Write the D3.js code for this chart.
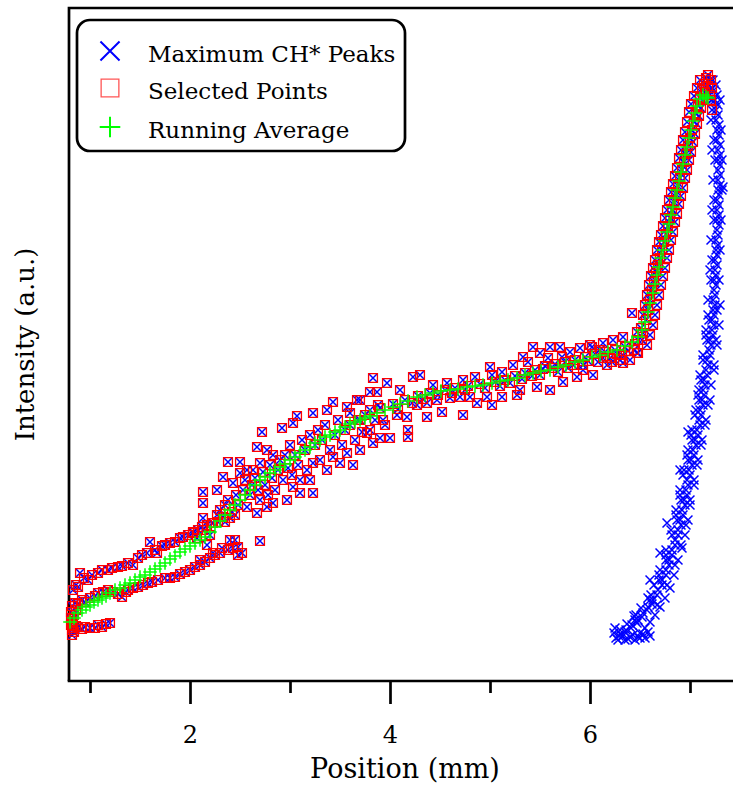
<!DOCTYPE html>
<html>
<head>
<meta charset="utf-8">
<script src="https://cdn.jsdelivr.net/npm/d3@7"></script>
<style>
  body { margin: 0; background: #fff; }
  svg { display: block; }
  text { font-family: "DejaVu Serif", serif; fill: #000; }
</style>
</head>
<body>
<svg id="chart" width="733" height="787"></svg>
<script>
// x: position (mm), y: intensity (a.u.)
let selectedPoints = [
  // upper band, left side
  [0.83,0.91],[0.86,0.96],[0.88,0.94],[0.90,1.08],[0.94,1.03],[0.98,1.01],[1.02,1.06],[1.08,1.08],
  [1.12,1.11],[1.18,1.11],[1.22,1.13],[1.28,1.14],[1.32,1.15],[1.38,1.18],[1.43,1.16],[1.48,1.23],
  [1.52,1.26],[1.57,1.28],[1.60,1.39],[1.65,1.31],[1.67,1.28],[1.72,1.35],[1.75,1.36],[1.80,1.38],
  [1.85,1.39],[1.90,1.43],[1.93,1.44],[1.98,1.46],[2.03,1.49],[2.08,1.51],[2.12,1.54],[2.17,1.56],
  [2.22,1.58],[2.28,1.59],[2.35,1.59],[2.40,1.63],[2.45,1.66],
  // lower band, left side
  [0.82,0.75],[0.85,0.78],[0.88,0.77],[0.92,0.81],[0.95,0.79],[1.00,0.83],[1.05,0.85],[1.08,0.88],
  [1.13,0.89],[1.18,0.91],[1.23,0.89],[1.28,0.87],[1.32,0.84],[1.36,0.89],[1.38,0.91],[1.43,0.93],
  [1.48,0.94],[1.53,0.96],[1.58,0.98],[1.62,0.99],[1.68,1.01],[1.75,1.03],[1.80,1.03],[1.85,1.04],
  [1.90,1.07],[1.95,1.09],[2.00,1.11],[2.05,1.14],[2.10,1.16],[2.15,1.19],[2.20,1.23],[2.25,1.26],
  [2.30,1.28],[2.38,1.31],[2.43,1.33],[2.48,1.34],[2.52,1.28],[2.48,1.26],[2.45,1.41],
  // bottom-left cluster
  [0.81,0.69],[0.81,0.63],[0.82,0.59],[0.83,0.53],[0.84,0.49],[0.82,0.46],[0.86,0.55],[0.88,0.54],
  [0.92,0.52],[0.95,0.54],[1.00,0.53],[1.05,0.53],[1.08,0.56],[1.12,0.54],[1.16,0.57],[1.20,0.58],
  [0.84,0.66],[0.86,0.71],[0.81,0.56],[0.82,0.51],[0.83,0.62],
  // 2 - 4 mm cloud
  [2.03,1.48],[2.07,1.43],[2.10,1.21],[2.13,1.51],[2.13,1.63],[2.13,1.78],[2.13,1.89],[2.17,1.36],
  [2.20,1.46],[2.23,1.58],[2.23,1.28],[2.27,1.91],[2.27,1.66],[2.32,1.33],[2.30,1.71],[2.33,1.64],
  [2.33,2.04],[2.35,1.76],[2.38,2.19],[2.38,1.81],[2.40,1.41],[2.42,1.69],[2.43,1.98],[2.46,1.86],
  [2.48,1.76],[2.50,2.19],[2.50,2.08],[2.53,1.91],[2.55,2.01],[2.57,2.11],[2.57,1.74],[2.60,1.86],
  [2.62,1.96],[2.63,2.11],[2.65,2.03],[2.67,2.34],[2.67,1.68],[2.68,1.91],[2.70,2.18],[2.70,1.81],
  [2.70,1.40],[2.72,2.49],[2.73,2.09],[2.75,1.96],[2.77,2.31],[2.77,1.74],[2.78,1.86],[2.80,2.16],
  [2.82,2.03],[2.83,2.26],[2.83,1.78],[2.85,1.91],[2.88,2.11],[2.90,2.21],[2.92,2.53],[2.93,2.01],
  [2.95,2.26],[2.97,1.81],[2.98,2.13],[3.00,2.36],[3.02,2.06],[3.03,2.58],[3.03,1.94],[3.05,2.26],
  [3.07,2.65],[3.08,2.16],[3.10,1.88],[3.10,2.01],[3.12,2.41],[3.15,2.31],[3.17,2.11],[3.20,2.01],
  [3.20,2.46],[3.23,2.68],[3.23,1.88],[3.23,2.18],[3.25,2.36],[3.28,2.51],[3.30,2.21],[3.32,2.41],
  [3.35,2.56],[3.37,2.71],[3.37,2.11],[3.40,2.31],[3.43,2.79],[3.43,2.24],[3.45,2.46],[3.48,2.61],
  [3.50,2.18],[3.52,2.36],[3.55,2.51],[3.57,2.74],[3.57,2.28],[3.60,2.56],[3.63,2.16],[3.65,2.41],
  [3.68,2.61],[3.70,2.81],[3.70,2.31],[3.72,2.49],[3.75,2.66],[3.77,2.48],[3.80,2.71],[3.83,2.38],
  [3.85,2.61],[3.87,2.89],[3.88,2.76],[3.90,2.43],[3.93,2.61],
  // 4 - 6.5 mm plateau, upper side
  [3.67,2.81],[3.80,2.89],[3.83,3.03],[3.97,2.98],[4.10,2.91],[4.23,3.04],[4.30,3.06],[4.43,2.96],
  [4.57,2.98],[4.73,3.01],[4.85,3.04],[5.00,3.14],[5.02,3.06],[5.12,3.09],[5.23,3.16],[5.33,3.24],
  [5.43,3.34],[5.50,3.28],[5.60,3.34],[5.70,3.34],[5.80,3.29],[5.90,3.33],[6.00,3.36],[6.13,3.38],
  [6.23,3.41],[6.33,3.44],[6.47,3.49],
  // plateau, lower side
  [3.60,2.68],[3.70,2.61],[3.80,2.51],[3.95,2.56],[4.00,2.43],[4.07,2.66],[4.17,2.64],[4.18,2.51],
  [4.18,2.44],[4.27,2.76],[4.37,2.78],[4.37,2.64],[4.47,2.81],[4.52,2.69],[4.60,2.83],[4.70,2.84],
  [4.73,2.66],[4.80,2.84],[4.87,2.78],[4.97,2.84],[5.02,2.76],[5.12,2.84],[5.27,2.86],[5.30,2.91],
  [5.47,2.94],[5.60,2.91],[5.73,2.99],[5.87,3.04],[6.03,3.06],[6.17,3.16],[6.30,3.21],[6.40,3.21],
  [6.47,3.28],
  // plateau, middle
  [3.90,2.73],[4.03,2.77],[4.15,2.81],[4.28,2.85],[4.40,2.88],[4.55,2.91],[4.65,2.93],[4.78,2.95],
  [4.90,2.97],[5.05,2.99],[5.15,3.01],[5.25,3.05],[5.35,3.08],[5.45,3.11],[5.55,3.15],[5.65,3.17],
  [5.75,3.19],[5.85,3.21],[5.95,3.24],[6.05,3.27],[6.15,3.29],[6.25,3.31],[6.35,3.34],[6.45,3.37],
  [6.52,3.41],[5.38,3.19],[5.50,3.06],[5.58,3.23],[5.68,3.09],[5.78,3.13],[5.93,3.16],[6.08,3.19],
  [6.20,3.23],[6.44,3.31],[6.32,3.26],[6.22,3.19],[6.13,3.23],[6.33,3.18],[6.48,3.28],[6.57,3.36],
  [5.93,3.11],[6.42,3.68],[6.02,3.34],
  [4.08,2.72],[4.22,2.78],[4.33,2.82],[4.48,2.86],[4.62,2.88],[4.75,2.91],[4.95,2.93],[5.10,2.95],
  [5.20,2.98],[5.32,3.02],[5.42,3.05],[5.53,3.12],[5.63,3.13],[5.72,3.24],[5.83,3.16],[5.98,3.20],
  [6.10,3.31],[6.27,3.27],[6.38,3.30],
  // steep rise to the peak
  [6.53,3.48],[6.56,3.61],[6.58,3.71],[6.60,3.81],[6.62,3.91],[6.64,3.99],[6.66,4.09],[6.68,4.16],
  [6.70,4.23],[6.72,4.31],[6.74,4.39],[6.76,4.47],[6.78,4.55],[6.80,4.63],[6.82,4.71],[6.84,4.79],
  [6.86,4.87],[6.88,4.95],[6.90,5.03],[6.92,5.11],[6.94,5.19],[6.96,5.27],[6.98,5.35],[7.00,5.43],
  [7.02,5.51],[7.04,5.59],[7.06,5.67],[7.08,5.75],[7.10,5.83],[7.12,5.91],[7.14,5.97],[7.16,6.03],
  [7.18,6.06],[7.21,6.01],[7.22,5.93],[7.20,5.86],
  [6.48,3.41],[6.51,3.53],[6.53,3.66],[6.55,3.76],[6.57,3.86],[6.59,3.96],[6.61,4.05],[6.63,4.13],
  [6.65,4.21],[6.67,4.31],[6.69,4.39],[6.71,4.46],[6.73,4.55],[6.75,4.63],[6.77,4.71],[6.79,4.81],
  [6.81,4.89],[6.83,4.97],[6.85,5.05],[6.87,5.13],[6.89,5.23],[6.91,5.31],[6.93,5.41],[6.95,5.49],
  [6.97,5.59],[6.99,5.69],[7.01,5.77],[7.04,5.85],[7.07,5.93],[7.10,6.01],
  [6.60,3.46],[6.63,3.56],[6.65,3.66],[6.67,3.76],[6.69,3.86],[6.71,3.96],[6.73,4.05],[6.75,4.13],
  [6.77,4.23],[6.79,4.31],[6.81,4.41],[6.83,4.49],[6.85,4.59],[6.87,4.67],[6.89,4.77],[6.91,4.85],
  [6.93,4.93],[6.95,5.03],[6.97,5.11],[6.99,5.21],[7.01,5.29],[7.03,5.39],[7.05,5.47],[7.07,5.57],
  [7.09,5.65],[7.11,5.73],[7.13,5.81],[7.15,5.89],[7.18,5.95],[7.21,5.81],[7.22,5.71]
];

// peaks that were not selected (falling branch past the maximum)
let rejectedPoints = [
  [7.23,6.01],[7.24,5.91],[7.25,5.81],[7.26,5.71],[7.26,5.61],[7.27,5.51],[7.27,5.41],[7.28,5.31],
  [7.28,5.21],[7.28,5.11],[7.28,5.01],[7.28,4.91],[7.27,4.81],[7.27,4.71],[7.27,4.61],[7.27,4.51],
  [7.26,4.41],[7.26,4.31],[7.25,4.21],[7.25,4.11],[7.24,4.01],[7.24,3.91],[7.23,3.81],[7.23,3.71],
  [7.22,3.61],[7.22,3.51],[7.20,3.41],[7.19,3.31],[7.17,3.21],[7.16,3.11],[7.14,3.01],[7.13,2.91],
  [7.12,2.81],[7.10,2.71],[7.09,2.61],[7.07,2.51],[7.05,2.41],[7.03,2.31],[7.01,2.21],[6.99,2.11],
  [6.97,2.01],[6.96,1.91],[6.94,1.81],[6.92,1.71],[6.90,1.61],[6.88,1.51],[6.85,1.41],[6.82,1.31],
  [6.79,1.21],[6.76,1.11],[6.72,1.01],[6.68,0.91],[6.63,0.81],[6.58,0.74],[6.53,0.68],[6.48,0.61],
  [6.42,0.56],[6.36,0.51],[6.30,0.47],[6.26,0.43],[6.35,0.41],[6.45,0.41],[6.55,0.43],
  [7.19,5.91],[7.21,5.61],[7.22,5.31],[7.23,5.01],[7.22,4.71],[7.21,4.41],[7.20,4.11],[7.18,3.81],
  [7.16,3.51],[7.13,3.21],[7.09,2.91],[7.06,2.71],[7.02,2.51],[6.98,2.31],[6.94,2.11],[6.90,1.91],
  [6.86,1.71],[6.81,1.51],[6.76,1.31],[6.70,1.11],[6.64,0.96],[6.58,0.83],[6.51,0.73],[6.44,0.65],
  [6.37,0.57],[6.30,0.51],[6.24,0.48],
  [7.30,5.81],[7.31,5.51],[7.32,5.21],[7.32,4.91],[7.31,4.61],[7.30,4.31],[7.29,4.01],[7.27,3.71],
  [7.26,3.41],[7.24,3.11],[7.20,2.81],[7.16,2.61],[7.12,2.41],[7.08,2.21],[7.04,2.01],[7.00,1.81],
  [6.98,1.61],[6.95,1.46],[6.92,1.33],[6.88,1.21],[6.84,1.06],[6.80,0.93],[6.75,0.83],[6.70,0.74],
  [6.65,0.66],[6.60,0.59],[6.55,0.53],[6.50,0.48],[6.60,0.45],[6.40,0.44],[6.50,0.43],
  [7.33,4.94],[6.25,0.53],[6.60,1.01],[6.70,1.28],[6.77,1.58],[6.90,2.11],[6.98,2.49],
  [7.26,5.96],[7.27,5.86],[7.28,5.76],[7.28,5.66],[7.29,5.56],[7.29,5.46],[7.30,5.36],[7.30,5.26],
  [7.30,5.16],[7.30,5.06],[7.30,4.96],[7.29,4.86],[7.29,4.76],[7.29,4.66],[7.29,4.56],[7.28,4.46],
  [7.28,4.36],[7.27,4.26],[7.27,4.16],[7.26,4.06],[7.26,3.96],[7.25,3.86],[7.25,3.76],[7.24,3.66],
  [7.24,3.56],[7.23,3.46],[7.21,3.36],[7.20,3.26],[7.18,3.16],[7.17,3.06],[7.15,2.96],[7.14,2.86],
  [7.13,2.76],[7.11,2.66],[7.10,2.56],[7.08,2.46],[7.06,2.36],[7.04,2.26],[7.02,2.16],[7.00,2.06],
  [6.98,1.96],[6.97,1.86],[6.95,1.76],[6.93,1.66],[6.91,1.56],[6.88,1.46],[6.85,1.36],[6.82,1.26],
  [6.79,1.16],[6.76,1.06],[6.72,0.96],[6.67,0.86],[6.62,0.77],[6.57,0.71],[6.52,0.64],[6.47,0.58],
  [6.41,0.53],[6.35,0.49],[6.29,0.45],
  [7.20,6.01],[7.22,5.81],[7.24,5.41],[7.25,5.21],[7.24,4.81],[7.24,4.61],[7.22,4.21],[7.21,4.01],
  [7.19,3.61],[7.17,3.41],[7.11,3.01],[7.09,2.81],[7.02,2.41],[6.98,2.21],[6.91,1.81],[6.87,1.61],
  [6.76,1.21],[6.69,1.01],[6.60,0.81],[6.45,0.61],
  [6.33,0.45],[6.38,0.42],[6.43,0.46],[6.48,0.44],[6.53,0.47],[6.58,0.49],[6.28,0.41],
  [7.30,3.76],[7.29,3.56],[7.27,3.36],[7.24,3.16],[7.21,2.96],[7.18,2.76],[7.15,2.56],[7.11,2.36],
  [7.07,2.16],[7.04,1.96],[7.00,1.76],[6.96,1.56],[6.91,1.36],[6.85,1.16],[6.77,0.96],[6.67,0.76],
  [7.18,3.66],[7.16,3.46],[7.13,3.26],[7.10,3.06],[7.08,2.86],[7.05,2.66],[7.01,2.46],[6.97,2.26],
  [6.93,2.06],[6.90,1.86],[6.86,1.66],[6.82,1.46],[6.76,1.26],[6.69,1.06],[6.61,0.86],[6.46,0.66]
];

let runningAverage = [
  [0.80,0.59],[0.84,0.63],[0.88,0.68],[0.92,0.71],[0.96,0.74],[1.00,0.76],[1.04,0.79],[1.08,0.81],
  [1.12,0.83],[1.16,0.85],[1.20,0.88],[1.25,0.91],[1.30,0.93],[1.35,0.96],[1.40,0.98],[1.45,1.01],
  [1.50,1.04],[1.55,1.06],[1.60,1.09],[1.65,1.12],[1.70,1.15],[1.75,1.18],[1.80,1.22],[1.85,1.25],
  [1.90,1.29],[1.95,1.32],[2.00,1.35],[2.05,1.38],[2.10,1.41],[2.15,1.44],[2.20,1.49],[2.25,1.54],
  [2.30,1.60],[2.35,1.66],[2.40,1.71],[2.45,1.76],[2.50,1.81],[2.55,1.86],[2.60,1.91],[2.65,1.96],
  [2.70,2.01],[2.75,2.04],[2.80,2.08],[2.85,2.11],[2.90,2.14],[2.95,2.17],[3.00,2.21],[3.05,2.24],
  [3.10,2.28],[3.15,2.31],[3.20,2.34],[3.25,2.38],[3.30,2.41],[3.35,2.44],[3.40,2.46],[3.45,2.49],
  [3.50,2.51],[3.55,2.54],[3.60,2.57],[3.65,2.59],[3.70,2.61],[3.75,2.63],[3.80,2.65],[3.87,2.68],
  [3.95,2.71],[4.03,2.74],[4.10,2.77],[4.18,2.80],[4.27,2.84],[4.35,2.86],[4.43,2.88],[4.51,2.90],
  [4.60,2.91],[4.68,2.92],[4.77,2.94],[4.85,2.95],[4.93,2.96],[5.02,2.98],[5.10,3.00],[5.18,3.01],
  [5.27,3.03],[5.35,3.06],[5.43,3.08],[5.51,3.10],[5.60,3.11],[5.68,3.14],[5.76,3.16],[5.85,3.19],
  [5.93,3.21],[6.02,3.24],[6.10,3.26],[6.18,3.29],[6.27,3.31],[6.35,3.35],[6.42,3.39],[6.48,3.44],
  [6.52,3.51],[6.55,3.59],[6.58,3.69],[6.60,3.78],[6.63,3.88],[6.65,3.97],[6.67,4.06],[6.69,4.14],
  [6.71,4.23],[6.73,4.31],[6.75,4.40],[6.77,4.49],[6.79,4.57],[6.81,4.66],[6.83,4.74],[6.85,4.83],
  [6.87,4.91],[6.89,5.00],[6.91,5.09],[6.93,5.17],[6.95,5.26],[6.97,5.34],[6.99,5.43],[7.01,5.51],
  [7.03,5.60],[7.05,5.68],[7.07,5.75],[7.10,5.82],[7.13,5.86],[7.16,5.84],[7.18,5.83]
];

let majorTicks = [2, 4, 6];
let minorTicks = [1, 3, 5, 7];
let legendLabels = ["Maximum CH* Peaks", "Selected Points", "Running Average"];

// every peak = selected ones + the rejected ones
let peakPoints = selectedPoints.concat(rejectedPoints);

var drawChart = function() {
  let svg = d3.select("#chart");
  let left = 69, top = 8, right = 733, bottom = 681;

  let x = d3.scaleLinear().domain([0.79, 7.43]).range([left, right]);
  let y = d3.scaleLinear().domain([0, 6.73]).range([bottom, top]);

  // frame (left + top), bottom is the axis
  svg.append("path")
    .attr("d", "M" + left + "," + bottom + "V" + top + "H" + (right + 5))
    .attr("fill", "none")
    .attr("stroke", "#000")
    .attr("stroke-width", 2.7);

  let plot = svg.append("g").attr("id", "points");

  let timesSym = d3.symbol(d3.symbolTimes, 54);
  let squareSym = d3.symbol(d3.symbolSquare2, 100);
  let plusSym = d3.symbol(d3.symbolPlus, 62);

  plot.selectAll("path.peak")
    .data(peakPoints)
    .enter().append("path")
    .attr("class", "peak")
    .attr("transform", d => "translate(" + x(d[0]) + "," + y(d[1]) + ")")
    .attr("d", timesSym)
    .attr("fill", "none")
    .attr("stroke", "#0000ff")
    .attr("stroke-width", 1.5);

  plot.selectAll("path.sel")
    .data(selectedPoints)
    .enter().append("path")
    .attr("class", "sel")
    .attr("transform", d => "translate(" + x(d[0]) + "," + y(d[1]) + ")")
    .attr("d", squareSym)
    .attr("fill", "none")
    .attr("stroke", "#ff0000")
    .attr("stroke-width", 1.3);

  plot.selectAll("path.avg")
    .data(runningAverage)
    .enter().append("path")
    .attr("class", "avg")
    .attr("transform", d => "translate(" + x(d[0]) + "," + y(d[1]) + ")")
    .attr("d", plusSym)
    .attr("fill", "none")
    .attr("stroke", "#00ff00")
    .attr("stroke-width", 1.5);

  // x axis: major ticks with labels, minor ticks without
  let xMajor = d3.axisBottom(x).tickValues(majorTicks).tickSize(23).tickFormat(d3.format("d"));
  let xMinor = d3.axisBottom(x).tickValues(minorTicks).tickSize(12).tickFormat("");

  let xGroup = svg.append("g").attr("transform", "translate(0," + bottom + ")");
  xGroup.call(xMajor);
  xGroup.select(".domain").remove();
  xGroup.selectAll("line").attr("stroke-width", 2.7);
  xGroup.selectAll("text")
    .attr("y", 62).attr("dy", null)
    .style("font-family", "DejaVu Serif, serif")
    .style("font-size", "24px");

  let xGroup2 = svg.append("g").attr("transform", "translate(0," + bottom + ")");
  xGroup2.call(xMinor);
  xGroup2.select(".domain").remove();
  xGroup2.selectAll("line").attr("stroke-width", 2.7);

  svg.append("line")
    .attr("x1", left - 1.3).attr("x2", right + 5)
    .attr("y1", bottom).attr("y2", bottom)
    .attr("stroke", "#000").attr("stroke-width", 2.7);

  // axis titles
  svg.append("text")
    .attr("x", 405).attr("y", 778)
    .attr("text-anchor", "middle")
    .style("font-size", "27px")
    .text("Position (mm)");

  svg.append("text")
    .attr("transform", "translate(34," + ((top + bottom) / 2) + ") rotate(-90)")
    .attr("text-anchor", "middle")
    .style("font-size", "26px")
    .text("Intensity (a.u.)");

  // legend
  let legend = svg.append("g").attr("id", "legend");
  legend.append("rect")
    .attr("x", 77).attr("y", 20)
    .attr("width", 328).attr("height", 131)
    .attr("rx", 13).attr("ry", 13)
    .attr("fill", "#fff")
    .attr("stroke", "#000")
    .attr("stroke-width", 2.7);

  let legendSyms = [
    { sym: d3.symbol(d3.symbolTimes, 240), color: "#0000ff", width: 2 },
    { sym: d3.symbol(d3.symbolSquare2, 400), color: "#ff5555", width: 1.3 },
    { sym: d3.symbol(d3.symbolPlus, 140), color: "#00ff00", width: 2 }
  ];
  let rowY = [51, 88, 127];

  legendLabels.forEach(function(label, i) {
    legend.append("path")
      .attr("transform", "translate(110," + rowY[i] + ")")
      .attr("d", legendSyms[i].sym)
      .attr("fill", "none")
      .attr("stroke", legendSyms[i].color)
      .attr("stroke-width", legendSyms[i].width);
    legend.append("text")
      .attr("x", 148).attr("y", rowY[i] + 11)
      .style("font-size", "23px")
      .text(label);
  });
}

drawChart();
</script>
</body>
</html>
